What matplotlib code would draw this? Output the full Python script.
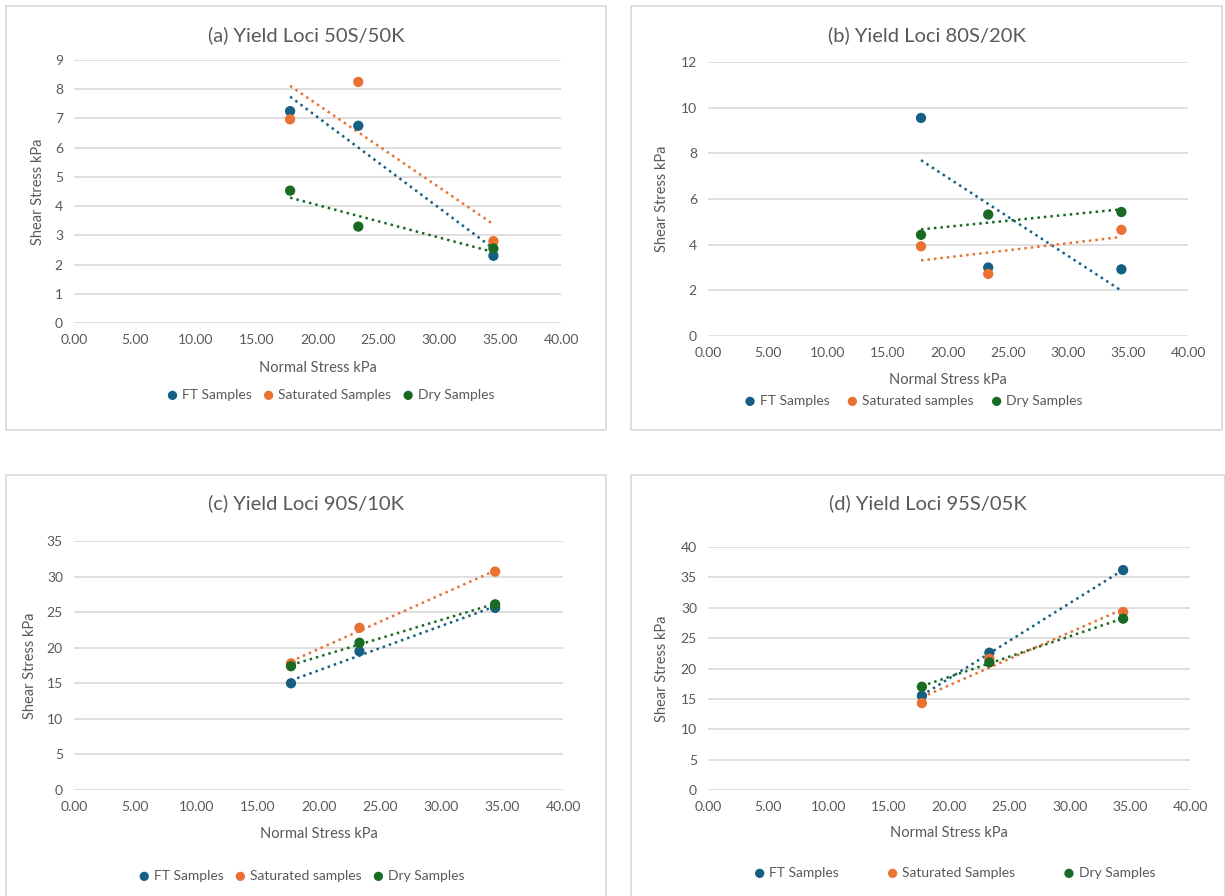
import matplotlib
matplotlib.use("Agg")
import matplotlib.pyplot as plt
from matplotlib.patches import Rectangle
import numpy as np

plt.rcParams['font.family'] = ['Lato', 'DejaVu Sans']

W, H = 1225, 896
TEXT = '#595959'
GRID = '#D9D9D9'
FT_COLOR = '#156082'
SAT_COLOR = '#E97132'
DRY_COLOR = '#196B24'

# normal stress applied in the shear tests (kPa)
normal_stress = [17.75, 23.35, 34.45]

# shear stress at failure (kPa) per mix
ft_a = [7.25, 6.75, 2.30]
sat_a = [6.97, 8.25, 2.80]
dry_a = [4.53, 3.30, 2.55]

ft_b = [9.55, 3.00, 2.92]
sat_b = [3.93, 2.72, 4.65]
dry_b = [4.43, 5.32, 5.43]

ft_c = [15.0, 19.5, 25.6]
sat_c = [17.8, 22.8, 30.7]
dry_c = [17.4, 20.7, 26.1]

ft_d = [15.5, 22.6, 36.2]
sat_d = [14.3, 21.6, 29.3]
dry_d = [17.0, 21.0, 28.2]

titles = ['(a) Yield Loci 50S/50K', '(b) Yield Loci 80S/20K',
          '(c) Yield Loci 90S/10K', '(d) Yield Loci 95S/05K']
sat_labels = ['Saturated Samples', 'Saturated samples',
              'Saturated samples', 'Saturated Samples']
y_max = [9, 12, 35, 40]
y_step = [1, 2, 5, 5]

# pixel layout: panel box, plot area, title/label/legend positions
panels = [
    dict(box=(6, 6, 606, 430), area=(74, 60, 561, 323), title_y=35, ylab_x=38,
         xlab_y=368, leg=(331, 395), colsp=0.85),
    dict(box=(631, 6, 1222, 430), area=(708, 62, 1188, 336), title_y=35, ylab_x=662,
         xlab_y=380, leg=(914, 401), colsp=1.3),
    dict(box=(6, 475, 606, 900), area=(74, 541, 563, 790), title_y=503, ylab_x=30,
         xlab_y=834, leg=(302, 876), colsp=0.85),
    dict(box=(631, 475, 1225, 900), area=(708, 547, 1190, 790), title_y=503, ylab_x=662,
         xlab_y=833, leg=(955, 873), colsp=3.5),
]

data = [(ft_a, sat_a, dry_a), (ft_b, sat_b, dry_b),
        (ft_c, sat_c, dry_c), (ft_d, sat_d, dry_d)]

fig = plt.figure(figsize=(W / 100, H / 100), dpi=100)
fig.patch.set_facecolor('white')


def fx(px):
    return px / W


def fy(py):
    return 1 - py / H


for i, p in enumerate(panels):
    bx0, by0, bx1, by1 = p['box']
    fig.patches.append(Rectangle((fx(bx0), fy(by1)), fx(bx1 - bx0), (by1 - by0) / H,
                                 transform=fig.transFigure, fill=False,
                                 edgecolor=GRID, lw=1.2, zorder=0))
    x0, y0, x1, y1 = p['area']
    ax = fig.add_axes([fx(x0), fy(y1), fx(x1 - x0), (y1 - y0) / H])
    ax.set_xlim(0, 40)
    ax.set_ylim(0, y_max[i])
    ax.set_xticks(np.arange(0, 41, 5))
    ax.set_xticklabels([f'{v:.2f}' for v in np.arange(0, 41, 5)])
    ax.set_yticks(np.arange(0, y_max[i] + 0.1, y_step[i]))
    for s in ax.spines.values():
        s.set_visible(False)
    ax.grid(axis='y', color=GRID, lw=1.2)
    ax.set_axisbelow(True)
    ax.tick_params(length=0, labelsize=10, colors=TEXT, pad=8)
    ax.patch.set_alpha(0)

    ft, sat, dry = data[i]
    handles = []
    for ys, col, lab in [(ft, FT_COLOR, 'FT Samples'), (sat, SAT_COLOR, sat_labels[i]),
                         (dry, DRY_COLOR, 'Dry Samples')]:
        h = ax.scatter(normal_stress, ys, s=55, color=col, zorder=3, label=lab,
                       edgecolors='none')
        handles.append(h)
        # linear trendline over the tested range
        k, b = np.polyfit(normal_stress, ys, 1)
        xs = np.array([min(normal_stress), max(normal_stress)])
        ax.plot(xs, k * xs + b, color=col, lw=1.8, ls=(0, (1, 1.6)), zorder=2)

    fig.text(fx((bx0 + bx1) / 2), fy(p['title_y']), titles[i], ha='center',
             va='center', fontsize=14.5, color=TEXT)
    fig.text(fx((x0 + x1) / 2), fy(p['xlab_y']), 'Normal Stress kPa', ha='center',
             va='center', fontsize=10.5, color=TEXT)
    fig.text(fx(p['ylab_x']), fy((y0 + y1) / 2), 'Shear Stress kPa', ha='center',
             va='center', rotation=90, fontsize=10.5, color=TEXT)
    lx, ly = p['leg']
    fig.legend(handles=handles, loc='center', bbox_to_anchor=(fx(lx), fy(ly)),
               ncol=3, frameon=False, fontsize=10, labelcolor=TEXT,
               handlelength=0.7, handletextpad=0.35, columnspacing=p['colsp'],
               markerscale=0.9, borderaxespad=0, borderpad=0)

fig.savefig('out.png', dpi=100, facecolor='white')
